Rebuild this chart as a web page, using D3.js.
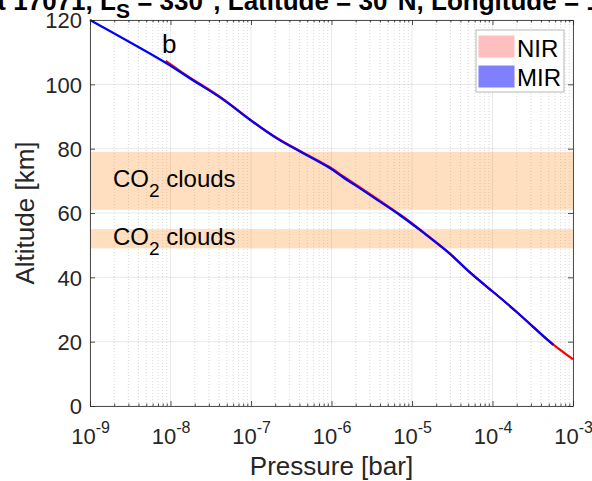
<!DOCTYPE html>
<html lang="en">
<head>
    <meta charset="UTF-8">
    <title>Pressure profile</title>
    <script src="https://cdn.jsdelivr.net/npm/d3@7"></script>
    <style>
        html, body {
            margin: 0;
            padding: 0;
            background: #fff;
            overflow: hidden;
        }
        svg {
            font-family: "Liberation Sans", Arial, sans-serif;
        }
        .grid-major {
            stroke: #262626;
            stroke-opacity: 0.15;
            stroke-width: 0.7px;
        }
        .grid-minor {
            stroke: #262626;
            stroke-opacity: 0.25;
            stroke-width: 0.7px;
            stroke-dasharray: 1, 2;
        }
        .profile {
            fill: none;
            stroke-width: 2.2px;
            stroke-linejoin: round;
        }
    </style>
</head>
<body>
<script>
    // profiles: altitude [km] vs pressure [bar]
    let mirAltitude = [120, 107.0, 103.9, 100, 96.2, 88.9, 83.0, 79.1, 73.9, 71.5, 67.7, 63.5, 59.4, 54.7, 50.6, 47.5, 41.3, 35.5, 29.3, 22.6, 19.0];
    let mirPressure = [1.0e-9, 8.55e-9, 1.31e-8, 2.26e-8, 4.12e-8, 9.7e-8, 2.08e-7, 4.06e-7, 1.0e-6, 1.3e-6, 2.26e-6, 4.0e-6, 7.1e-6, 1.26e-5, 2.03e-5, 2.96e-5, 5.25e-5, 1.02e-4, 2.0e-4, 3.89e-4, 5.69e-4];

    let nirAltitude = [107.3, 103.9, 100, 96.2, 88.9, 83.0, 79.1, 73.9, 71.5, 67.7, 63.5, 59.4, 54.7, 50.6, 47.5, 41.3, 35.5, 29.3, 22.6, 19.0, 14.5];
    let nirPressure = [8.7e-9, 1.35e-8, 2.34e-8, 4.2e-8, 9.8e-8, 2.13e-7, 4.2e-7, 1.04e-6, 1.35e-6, 2.35e-6, 4.15e-6, 7.3e-6, 1.28e-5, 2.05e-5, 2.98e-5, 5.25e-5, 1.02e-4, 2.0e-4, 3.89e-4, 5.69e-4, 1.0e-3];

    let cloudBottoms = [61, 49];
    let cloudTops = [79, 55];

    let yTicks = [0, 20, 40, 60, 80, 100, 120];
    let xExponents = [-9, -8, -7, -6, -5, -4, -3];
    let legendLabels = ['NIR', 'MIR'];
    let legendColors = ['#ffbfbf', '#8080ff'];

    let width = 592;
    let height = 481;

    let svg = d3.select('body').append('svg')
        .attr('width', width)
        .attr('height', height);

    let x = d3.scaleLog().domain([1e-9, 1e-3]).range([90, 573]);
    let y = d3.scaleLinear().domain([0, 120]).range([406, 20]);

    let decades = xExponents.map(e => Math.pow(10, e));
    let minors = [];
    xExponents.slice(0, -1).forEach(e => {
        for (let k = 2; k <= 9; k++) minors.push(k * Math.pow(10, e));
    });

    // grid
    let grid = svg.append('g');
    grid.selectAll('.grid-minor')
        .data(minors).enter()
        .append('line')
        .classed('grid-minor', true)
        .attr('x1', d => x(d)).attr('x2', d => x(d))
        .attr('y1', y(0)).attr('y2', y(120));
    grid.selectAll('.gx')
        .data(decades).enter()
        .append('line')
        .classed('grid-major', true)
        .attr('x1', d => x(d)).attr('x2', d => x(d))
        .attr('y1', y(0)).attr('y2', y(120));
    grid.selectAll('.gy')
        .data(yTicks).enter()
        .append('line')
        .classed('grid-major', true)
        .attr('x1', x(1e-9)).attr('x2', x(1e-3))
        .attr('y1', d => y(d)).attr('y2', d => y(d));

    // CO2 cloud bands
    let bands = svg.append('g');
    cloudBottoms.forEach((b, i) => {
        bands.append('rect')
            .attr('x', x(1e-9))
            .attr('width', x(1e-3) - x(1e-9))
            .attr('y', y(cloudTops[i]))
            .attr('height', y(b) - y(cloudTops[i]))
            .attr('fill', '#ff8000')
            .attr('fill-opacity', 0.25);
        let t = bands.append('text')
            .attr('x', 113)
            .attr('y', y((b + cloudTops[i]) / 2) + 6)
            .attr('font-size', 24)
            .attr('fill', '#000');
        t.append('tspan').text('CO');
        t.append('tspan').attr('font-size', 19).attr('dy', 10).text('2');
        t.append('tspan').attr('dy', -10).text(' clouds');
    });

    // profiles
    let line = d3.line()
        .curve(d3.curveBasis)
        .x(d => x(d[1]))
        .y(d => y(d[0]));

    svg.append('path')
        .classed('profile', true)
        .attr('stroke', '#ff0000')
        .attr('d', line(d3.zip(nirAltitude, nirPressure)));
    svg.append('path')
        .classed('profile', true)
        .attr('stroke', '#0000ff')
        .attr('d', line(d3.zip(mirAltitude, mirPressure)));

    // axes
    let axisColor = '#262626';
    let bottom = svg.append('g')
        .attr('transform', `translate(0,${y(0)})`)
        .call(d3.axisBottom(x).tickValues(decades).tickSize(-5).tickSizeOuter(0).tickFormat(''));
    svg.append('g')
        .attr('transform', `translate(0,${y(0)})`)
        .call(d3.axisBottom(x).tickValues(minors).tickSize(-2.5).tickSizeOuter(0).tickFormat(''))
        .select('.domain').remove();
    svg.append('g')
        .attr('transform', `translate(0,${y(120)})`)
        .call(d3.axisTop(x).tickValues(decades).tickSize(-5).tickSizeOuter(0).tickFormat(''));
    svg.append('g')
        .attr('transform', `translate(0,${y(120)})`)
        .call(d3.axisTop(x).tickValues(minors).tickSize(-2.5).tickSizeOuter(0).tickFormat(''))
        .select('.domain').remove();
    let left = svg.append('g')
        .attr('transform', `translate(${x(1e-9)},0)`)
        .call(d3.axisLeft(y).tickValues(yTicks).tickSize(-5).tickSizeOuter(0).tickPadding(8));
    svg.append('g')
        .attr('transform', `translate(${x(1e-3)},0)`)
        .call(d3.axisRight(y).tickValues(yTicks).tickSize(-5).tickSizeOuter(0).tickFormat(''));

    svg.selectAll('.domain, .tick line')
        .attr('stroke', axisColor)
        .attr('stroke-width', 0.8);

    left.selectAll('text')
        .attr('font-size', 22)
        .attr('font-family', null)
        .attr('dy', '0.36em')
        .attr('fill', axisColor);

    // x tick labels as 10^n
    bottom.selectAll('.tick').each(function (d, i) {
        let t = d3.select(this).append('text')
            .attr('y', 38)
            .attr('text-anchor', 'middle')
            .attr('font-size', 22)
            .attr('font-family', null)
            .attr('fill', axisColor);
        t.append('tspan').text('10');
        t.append('tspan').attr('font-size', 16).attr('dy', -11).text(xExponents[i]);
    });

    // axis labels
    svg.append('text')
        .attr('x', (x(1e-9) + x(1e-3)) / 2)
        .attr('y', 475)
        .attr('text-anchor', 'middle')
        .attr('font-size', 26)
        .attr('fill', axisColor)
        .text('Pressure [bar]');
    svg.append('text')
        .attr('transform', `translate(34,${(y(0) + y(120)) / 2}) rotate(-90)`)
        .attr('text-anchor', 'middle')
        .attr('font-size', 26)
        .attr('fill', axisColor)
        .text('Altitude [km]');

    // title, cut by the top of the figure; "L" placed at x = 100
    let title = svg.append('text')
        .attr('y', 10)
        .attr('font-size', 26)
        .attr('font-weight', 'bold');
    let prefix = title.append('tspan').text('Orbit 17071, ');
    title.append('tspan').text('L');
    title.append('tspan').attr('font-size', 21).attr('dy', 8).text('S');
    title.append('tspan').attr('dy', -8).text(' = 330°, Latitude = 30°N, Longitude = 150°E');
    title.attr('x', 100 - prefix.node().getComputedTextLength());

    // panel letter
    svg.append('text')
        .attr('x', 162)
        .attr('y', 53)
        .attr('font-size', 26)
        .text('b');

    // legend
    let legend = svg.append('g');
    legend.append('rect')
        .attr('x', 476).attr('y', 30)
        .attr('width', 88).attr('height', 62)
        .attr('fill', '#fff')
        .attr('stroke', '#a6a6a6')
        .attr('stroke-width', 0.8);
    legendLabels.forEach((label, i) => {
        legend.append('rect')
            .attr('x', 479).attr('y', 36 + i * 30)
            .attr('width', 35).attr('height', 21)
            .attr('fill', legendColors[i])
            .attr('stroke', legendColors[i]);
        legend.append('text')
            .attr('x', 517).attr('y', 56.5 + i * 29.5)
            .attr('font-size', 24)
            .text(label);
    });
</script>
</body>
</html>
